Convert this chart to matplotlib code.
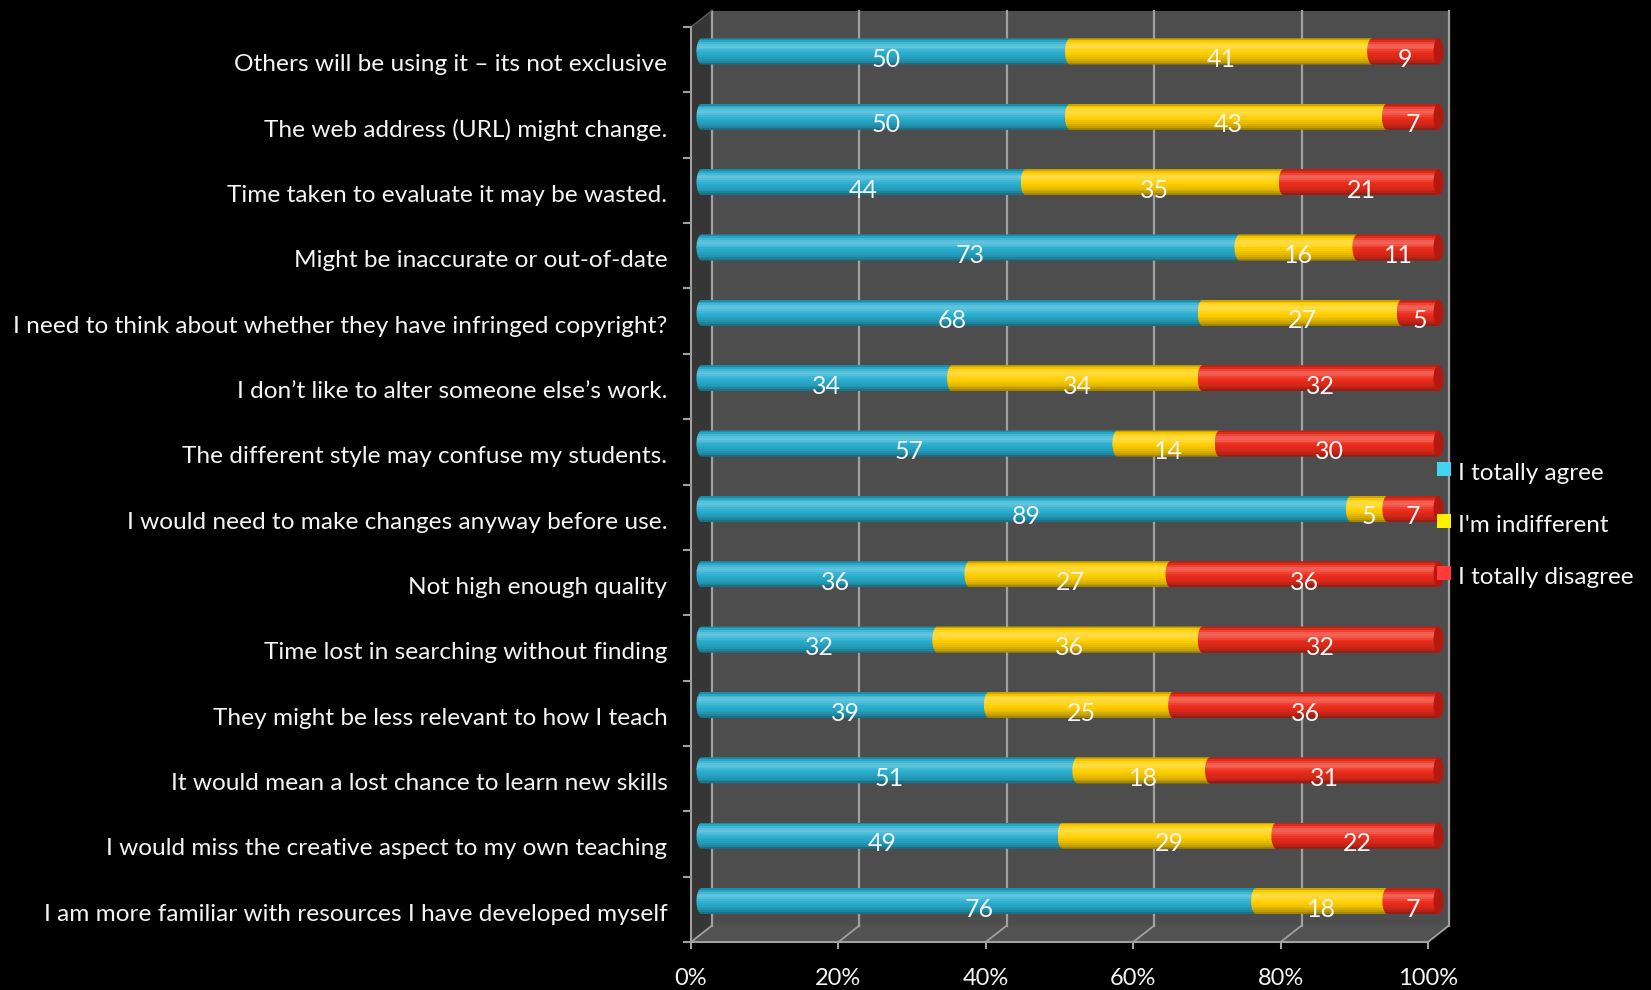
import numpy as np
import matplotlib.pyplot as plt
import matplotlib.colors as mcolors
from matplotlib.patches import Rectangle, Polygon, Ellipse, PathPatch
from matplotlib.path import Path
from matplotlib.transforms import ScaledTranslation

plt.rcParams['font.family'] = ['Lato', 'DejaVu Sans']

# ── Survey data ────────────────────────────────────────────────────────────────
QUESTIONS = [
    "Others will be using it \u2013 its not exclusive",
    "The web address (URL) might change.",
    "Time taken to evaluate it may be wasted.",
    "Might be inaccurate or out-of-date",
    "I need to think about whether they have infringed copyright?",
    "I don\u2019t like to alter someone else\u2019s work.",
    "The different style may confuse my students.",
    "I would need to make changes anyway before use.",
    "Not high enough quality",
    "Time lost in searching without finding",
    "They might be less relevant to how I teach",
    "It would mean a lost chance to learn new skills",
    "I would miss the creative aspect to my own teaching",
    "I am more familiar with resources I have developed myself",
]
AGREE       = [50, 50, 44, 73, 68, 34, 57, 89, 36, 32, 39, 51, 49, 76]
INDIFFERENT = [41, 43, 35, 16, 27, 34, 14,  5, 27, 36, 25, 18, 29, 18]
DISAGREE    = [ 9,  7, 21, 11,  5, 32, 30,  7, 36, 32, 36, 31, 22,  7]
SERIES      = ["I totally agree", "I'm indifferent", "I totally disagree"]
TICKS       = [0, 20, 40, 60, 80, 100]

BAR_COLORS    = ["#29aecf", "#ffcf00", "#ec2c1c"]
CAP_COLORS    = ["#1a8aa8", "#d9a800", "#b5180e"]
LEGEND_COLORS = ["#44d4f2", "#fff000", "#ff3a3a"]
TEXT_COLOR    = "#f4f4f4"
LINE_COLOR    = "#a0a0a0"

# ── Figure & the front plane of the 3-D box (pixel layout) ────────────────────
W, H, DPI = 1651, 990, 100
X0, X1, Y0, Y1 = 691, 1428, 27, 942
DEPTH = (21, 16.5)          # back wall offset, px (right, up)

fig = plt.figure(figsize=(W / DPI, H / DPI), dpi=DPI, facecolor="black")
ax = fig.add_axes([X0 / W, 1 - Y1 / H, (X1 - X0) / W, (Y1 - Y0) / H])
ax.set_facecolor("none")
n = len(QUESTIONS)

dxa = DEPTH[0] / (X1 - X0)
dya = DEPTH[1] / (Y1 - Y0)

# walls and floor
ax.add_patch(Rectangle((dxa, dya), 1, 1, transform=ax.transAxes,
                       facecolor="#4d4d4d", edgecolor="none", clip_on=False, zorder=0))
ax.add_patch(Polygon([(0, 0), (dxa, dya), (dxa, 1 + dya), (0, 1)], transform=ax.transAxes,
                     facecolor="#363636", edgecolor="none", clip_on=False, zorder=0))
ax.add_patch(Polygon([(0, 0), (1, 0), (1 + dxa, dya), (dxa, dya)], transform=ax.transAxes,
                     facecolor="#525252", edgecolor="none", clip_on=False, zorder=0))

# gridlines on the back wall + their continuation across the floor
for t in TICKS:
    f = t / 100
    ax.plot([f + dxa, f + dxa], [dya, 1 + dya], transform=ax.transAxes,
            color=LINE_COLOR, lw=1.6, clip_on=False, zorder=1)
    ax.plot([f, f + dxa], [0, dya], transform=ax.transAxes,
            color=LINE_COLOR, lw=1.3, clip_on=False, zorder=1)
ax.plot([0, dxa], [1, 1 + dya], transform=ax.transAxes,
        color="#5a5a5a", lw=1.0, clip_on=False, zorder=1)

# ── Cylinder bars ─────────────────────────────────────────────────────────────
bar_tr = ax.transData + ScaledTranslation(DEPTH[0] / 2 / DPI, DEPTH[1] / 2 / DPI,
                                          fig.dpi_scale_trans)
label_tr = bar_tr + ScaledTranslation(0, -8 / DPI, fig.dpi_scale_trans)

BAR_H = 0.40      # in category units
CAP = 0.68        # half-width of the round end, in % units
NSTRIP = 14


def shade(color, t):
    """Vertical cylinder shading, t=0 top edge, t=1 bottom edge."""
    rgb = np.array(mcolors.to_rgb(color))
    k = 0.28 * np.exp(-((t - 0.30) / 0.17) ** 2) - 0.42 * t ** 5 - 0.30 * (1 - t) ** 8
    if k >= 0:
        return tuple(rgb + (1 - rgb) * k)
    return tuple(rgb * (1 + k))


def capsule(left, right, yc, h, a):
    """Bar outline with a rounded left end."""
    s = np.linspace(0, np.pi, 32)
    arc = np.column_stack([left - a * np.sin(s), yc + (h / 2) * np.cos(s)])
    verts = np.vstack([[[right, yc - h / 2], [right, yc + h / 2]], arc,
                       [[right, yc - h / 2]]])
    return Path(verts, closed=True)


values = np.array([AGREE, INDIFFERENT, DISAGREE], dtype=float)
totals = values.sum(axis=0)
shares = 100 * values / totals
lefts = np.vstack([np.zeros(n), np.cumsum(shares, axis=0)[:-1]])
ypos = np.arange(n)

for k in range(3):
    shapes = []
    for i in range(n):
        L, R = lefts[k, i], lefts[k, i] + shares[k, i]
        p = PathPatch(capsule(L, R, ypos[i], BAR_H, CAP), transform=bar_tr)
        p.set_figure(fig)
        shapes.append(p)
    for j in range(NSTRIP):
        t = (j + 0.5) / NSTRIP
        yj = ypos - BAR_H / 2 + t * BAR_H
        bars = ax.barh(yj, shares[k] + CAP, left=lefts[k] - CAP,
                       height=BAR_H / NSTRIP * 1.08, color=shade(BAR_COLORS[k], t),
                       linewidth=0, transform=bar_tr, zorder=3 + k)
        for rect, shp in zip(bars, shapes):
            rect.set_clip_path(shp)
            rect.set_clip_box(None)

    for i in range(n):
        ax.text(lefts[k, i] + shares[k, i] / 2, ypos[i], f"{int(values[k, i])}",
                transform=label_tr, ha="center", va="center",
                color=TEXT_COLOR, fontsize=18, zorder=10)

# flat end face of each cylinder
for i in range(n):
    R = lefts[2, i] + shares[2, i]
    ax.add_patch(Ellipse((R, ypos[i]), 2 * CAP, BAR_H, transform=bar_tr,
                         facecolor=CAP_COLORS[2], edgecolor="none",
                         clip_on=False, zorder=6))

# ── Axes ──────────────────────────────────────────────────────────────────────
ax.set_xlim(0, 100)
ax.set_ylim(n - 0.5, -0.5)
for side in ["top", "right"]:
    ax.spines[side].set_visible(False)
for side in ["left", "bottom"]:
    ax.spines[side].set_color(LINE_COLOR)
    ax.spines[side].set_linewidth(1.5)

ax.set_xticks(TICKS)
ax.set_xticklabels([f"{t}%" for t in TICKS])
ax.tick_params(axis="x", length=5, width=1.5, color=LINE_COLOR,
               labelcolor=TEXT_COLOR, labelsize=17, pad=14)

ax.set_yticks(ypos)
ax.set_yticklabels(QUESTIONS)
ax.set_yticks(np.arange(n + 1) - 0.5, minor=True)
ax.tick_params(axis="y", which="major", length=0, pad=17,
               labelcolor=TEXT_COLOR, labelsize=17.6)
ax.tick_params(axis="y", which="minor", length=6, width=1.5, color=LINE_COLOR)
for lab in ax.get_yticklabels():
    lab.set_transform(lab.get_transform() + ScaledTranslation(0, -3 / DPI, fig.dpi_scale_trans))

# ── Legend ────────────────────────────────────────────────────────────────────
for k, (name, col) in enumerate(zip(SERIES, LEGEND_COLORS)):
    yc = 469 + k * 52
    fig.add_artist(Rectangle((1437 / W, 1 - (yc + 7) / H), 14 / W, 14 / H,
                             transform=fig.transFigure, facecolor=col,
                             edgecolor="none"))
    fig.text(1458 / W, 1 - (yc + 2) / H, name, color=TEXT_COLOR, fontsize=17.5,
             ha="left", va="center_baseline")

fig.savefig("out.png", dpi=DPI, facecolor="black")
